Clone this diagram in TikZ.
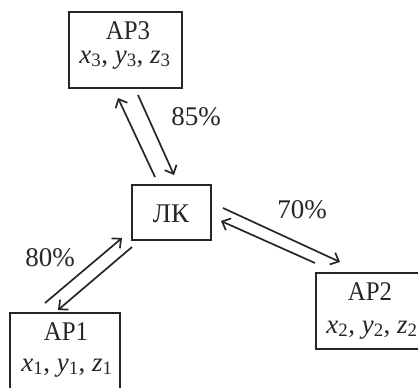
\documentclass[tikz,border=0pt]{standalone}
\usepackage{fontspec}
\setmainfont{Liberation Serif}
\usetikzlibrary{arrows.meta}
\tikzset{
  box/.style={draw=black!85, line width=2pt, inner sep=0pt},
  txt/.style={anchor=base, inner sep=0pt, text=black!85, font=\fontsize{27}{30}\selectfont},
  conn/.style={draw=black!85, line width=1.7pt, -{Straight Barb[length=7pt,width=13pt,line width=1.7pt]}},
}
\newcommand{\vv}[2]{\textit{#1}\textsubscript{#2}}
\newcommand{\narrow}[1]{\scalebox{0.92}[1]{#1}}
\begin{document}
\begin{tikzpicture}[x=1pt,y=-1pt]
\useasboundingbox (0,0) rectangle (418,388);
\clip (0,0) rectangle (418,388);
% boxes
\node[box, minimum width=113pt, minimum height=76pt] (ap3) at (125.5,50) {};
\node[box, minimum width=79pt, minimum height=55pt] (lk) at (171.5,212.5) {};
\node[box, minimum width=110pt, minimum height=84pt] (ap1) at (65,355) {};
\node[box, minimum width=110pt, minimum height=76pt] (ap2) at (371,311) {};
% texts
\node[txt] (ap3a) at (128,39) {\narrow{AP3}};
\node[txt] (ap3b) at (125,63) {\vv{x}{3}, \vv{y}{3}, \vv{z}{3}};
\node[txt] (lka) at (171,222) {ЛК};
\node[txt] (ap1a) at (66,340) {\narrow{AP1}};
\node[txt] (ap1b) at (67,371) {\vv{x}{1}, \vv{y}{1}, \vv{z}{1}};
\node[txt] (ap2a) at (370,300) {\narrow{AP2}};
\node[txt] (ap2b) at (372,333) {\vv{x}{2}, \vv{y}{2}, \vv{z}{2}};
\node[txt] (p85) at (196,125) {85\%};
\node[txt] (p70) at (302,218) {70\%};
\node[txt] (p80) at (50,266) {80\%};
% arrow end points
\coordinate (a1s) at (155,177);
\coordinate (a1e) at (118,98);
\coordinate (a2s) at (138,95);
\coordinate (a2e) at (174,175);
\coordinate (b1s) at (223,208);
\coordinate (b1e) at (340,262);
\coordinate (b2s) at (315,263);
\coordinate (b2e) at (221,221);
\coordinate (c1s) at (45,303);
\coordinate (c1e) at (122,238);
\coordinate (c2s) at (132,247);
\coordinate (c2e) at (58,310);
% connectors
\draw[conn] (a1s) -- (a1e);
\draw[conn] (a2s) -- (a2e);
\draw[conn] (b1s) -- (b1e);
\draw[conn] (b2s) -- (b2e);
\draw[conn] (c1s) -- (c1e);
\draw[conn] (c2s) -- (c2e);
\end{tikzpicture}
\end{document}
